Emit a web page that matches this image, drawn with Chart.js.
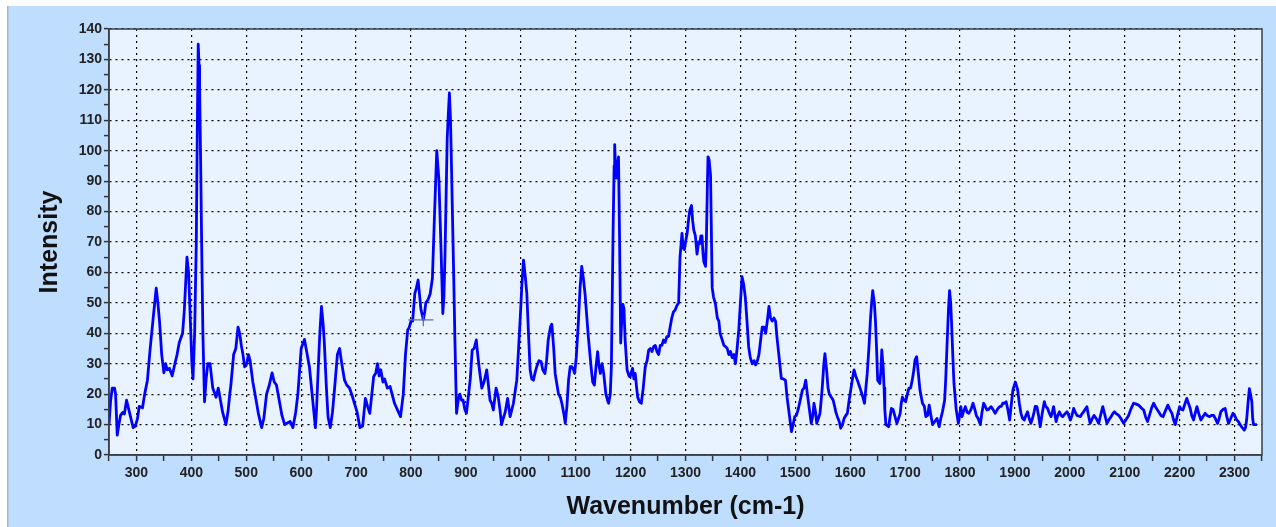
<!DOCTYPE html>
<html>
<head>
<meta charset="utf-8">
<title>Raman spectrum</title>
<script src="https://cdn.jsdelivr.net/npm/chart.js@4"></script>
<style>
  html, body { margin: 0; padding: 0; background: #ffffff; }
  #chart { display: block; }
</style>
</head>
<body>
<canvas id="chart" width="1276" height="527"></canvas>
<script>
// spectrum (cm-1 / intensity)
const wavenumber = [
  250, 253, 256, 260, 262, 265, 268, 271, 275, 278, 282, 286, 290, 294, 298, 302, 305, 311, 315, 320,
  325, 331, 336, 339, 342, 346, 350, 353, 356, 360, 365, 370, 374, 378, 384, 387, 392, 395, 398, 401,
  403, 406, 409, 411, 412.5, 414, 415, 417, 419, 421, 424, 427, 430, 434, 439, 445, 449, 453, 457, 460,
  463, 467, 470, 472, 477, 481, 485, 488, 491, 494, 497, 501, 504, 507, 512, 516, 522, 528, 532, 537,
  542, 547, 551, 555, 560, 565, 570, 575, 580, 585, 590, 594, 600, 606, 610, 615, 621, 626, 628, 631,
  634, 637, 640, 642, 646, 649, 653, 657, 660, 666, 670, 674, 679, 683, 688, 692, 697, 702, 707, 712,
  717, 721, 725, 732, 736, 739, 742, 745, 749, 752, 757, 762, 767, 770, 776, 781, 786, 790, 794, 797,
  800, 803, 807, 810, 813, 816, 818, 822.5, 825, 827, 831, 835, 839, 842.5, 845, 847, 849, 851, 853, 855,
  858, 860, 862, 864, 866, 868, 870, 872, 874, 876, 878, 880, 883, 886, 889, 892, 895, 898, 901, 905,
  908, 911.5, 915, 919, 921, 924, 929, 933, 938, 941, 944, 947, 950, 955, 959, 962, 965, 968, 971.5, 976,
  980.5, 986.6, 992.7, 996, 999, 1002, 1005, 1008, 1011, 1014, 1017, 1020, 1023, 1026, 1029, 1033, 1037, 1040, 1044, 1047,
  1050, 1054, 1056.5, 1060, 1062.6, 1066, 1068.7, 1072, 1074.8, 1078, 1081, 1084, 1087, 1090, 1093, 1096, 1098, 1101, 1105, 1108,
  1111, 1114, 1117, 1120, 1123, 1126, 1128, 1131, 1134, 1137, 1140, 1142, 1145, 1148, 1151, 1155, 1158, 1160, 1163, 1165,
  1168, 1170, 1171, 1173, 1174, 1176, 1178, 1180, 1182, 1184, 1186, 1188, 1190, 1193.6, 1197, 1199, 1201, 1203.6, 1206, 1208.5,
  1211, 1213, 1216, 1219.5, 1223, 1226.7, 1230, 1233, 1236, 1239, 1242, 1245, 1248, 1251, 1254, 1257, 1260, 1263, 1266, 1269,
  1272, 1275, 1278, 1281, 1284, 1287.5, 1290, 1293.6, 1296, 1298, 1300, 1303, 1306, 1308, 1311, 1313, 1315, 1318, 1321, 1324,
  1326, 1328, 1330, 1332, 1333.4, 1336.5, 1338, 1340, 1341, 1343, 1345.6, 1347, 1348.6, 1351, 1354.7, 1358, 1360.8, 1363, 1366.9, 1370,
  1373, 1376, 1379, 1382, 1385, 1388, 1391, 1394, 1397, 1400, 1403, 1406, 1409, 1412, 1415, 1418, 1421.6, 1425, 1427.7, 1431,
  1433.7, 1437, 1439.8, 1443, 1446, 1449, 1452, 1455, 1458, 1461, 1464, 1467, 1470, 1474.5, 1478, 1482, 1485, 1488, 1493, 1496,
  1499, 1502, 1505, 1509, 1513, 1516, 1519, 1522, 1525, 1529, 1532, 1534, 1537, 1539, 1542, 1545, 1549, 1552, 1554, 1557,
  1559.6, 1562, 1565.6, 1569, 1571.7, 1574, 1576.6, 1580, 1582.7, 1586, 1588.8, 1592, 1594.8, 1598, 1601, 1604, 1607, 1610, 1613, 1616,
  1619, 1623, 1626, 1628, 1631, 1634, 1637, 1639, 1641, 1644, 1646, 1648, 1650, 1654, 1656, 1657.5, 1660, 1661.7, 1663, 1665,
  1670, 1673, 1675, 1678, 1680, 1685, 1688, 1691, 1693, 1695, 1698, 1701, 1704, 1707, 1710, 1713, 1716, 1718, 1721, 1724,
  1727, 1731.6, 1735, 1737.7, 1741, 1743.8, 1747, 1750, 1754, 1758, 1762, 1765, 1768, 1772, 1774, 1776, 1779, 1781, 1783, 1784.5,
  1787, 1789, 1793, 1797, 1801.5, 1803.6, 1806, 1809.7, 1813, 1816, 1820, 1823.7, 1827, 1829.7, 1833, 1837, 1840, 1843, 1846, 1849,
  1852, 1856.4, 1860, 1864, 1868, 1872, 1875, 1878, 1881, 1884, 1887, 1890.4, 1893, 1896.4, 1900.7, 1905, 1908, 1911, 1914, 1917,
  1920, 1923, 1926, 1929, 1932, 1935, 1937, 1940, 1943, 1946, 1950, 1953.5, 1956, 1959.6, 1962, 1965.7, 1968, 1970.5, 1973, 1975,
  1978, 1981, 1984, 1987, 1991, 1995, 1998, 2001, 2004, 2007, 2010, 2013, 2016, 2019, 2022, 2025, 2028, 2031, 2034, 2037,
  2041, 2044, 2048, 2052.5, 2056, 2060, 2064, 2067.6, 2071, 2075, 2078, 2081, 2085, 2089, 2093, 2098, 2102, 2107, 2111, 2116,
  2120, 2125, 2130, 2134.5, 2138, 2141.6, 2145, 2149, 2152.6, 2157, 2161.7, 2166, 2169.7, 2174, 2178.6, 2182, 2186, 2189, 2192, 2196,
  2200, 2203, 2206, 2210, 2213, 2216, 2219.3, 2222, 2225.4, 2228, 2231.5, 2235, 2238.7, 2242, 2246.5, 2250, 2254.5, 2258, 2262, 2265,
  2269, 2272, 2275, 2279, 2283, 2286, 2289, 2293, 2297, 2300, 2304, 2307, 2310, 2314, 2317.6, 2320, 2322, 2325, 2327, 2329,
  2331.5, 2333, 2334.6, 2340.6
];
const intensity = [
  10, 18, 22, 22, 20, 6.5, 10, 13, 14, 13.5, 18, 15, 12, 9, 9.5, 12, 16, 15.5, 20, 24.6,
  35, 46, 54.8, 50, 44, 33, 27, 30, 28, 28.5, 26, 30, 33, 37, 40, 47, 65, 60, 45, 30,
  25, 40, 70, 110, 135, 128, 121, 95, 66, 40, 17.5, 25, 30, 30, 22, 19, 22, 18, 14, 12,
  10, 14.6, 20, 23, 33, 35, 42, 40, 36, 33, 29, 30, 33, 31, 24, 20, 13.7, 9, 12, 20,
  23, 27, 24, 23, 18, 13, 10, 10.5, 11, 9, 14, 20, 35, 38, 34, 29, 18, 9, 15, 28,
  40, 48.8, 43, 37.5, 22, 12.5, 9, 14, 20, 33, 35, 30, 24.6, 23, 22, 20, 17, 14, 9, 9.5,
  18.6, 16, 13.7, 25.7, 27, 30, 26, 28, 24, 25, 22, 22.5, 19, 17, 14.6, 12.6, 20, 33, 41, 42,
  44, 44, 53, 55, 57.5, 52, 48, 44.5, 47, 50, 51, 53, 58, 77, 90, 100, 95, 90, 78, 66,
  46.5, 52, 66, 85, 104, 112, 119, 110, 93, 75, 57.5, 38, 13.7, 18, 20, 18, 18, 15, 13.7, 20,
  25, 34.5, 35, 37.8, 34, 29, 22, 24, 28, 23, 18, 17, 14.8, 22, 19, 15, 10, 12, 14, 18.6,
  12.6, 17, 24.6, 35, 45, 56, 64, 59, 53, 40, 28, 25, 24.6, 27, 29, 31, 30.7, 28, 26.8, 31,
  37.8, 42, 43, 35, 26.8, 23, 20, 19, 17, 14, 10.4, 16, 24.6, 29, 29, 28, 26.8, 32, 44, 55,
  62, 58, 53, 46, 38.9, 33, 29, 24, 23, 29, 34, 30, 26.8, 30, 26.8, 20, 18, 17, 20, 29,
  72, 95, 102, 92, 91, 95, 98, 70, 36.8, 45, 49.5, 48, 38, 28, 26, 25.7, 27, 28.5, 25, 26.8,
  22, 19, 17.5, 17, 22, 29, 31, 34.5, 35, 34, 35.6, 36, 34, 33, 36, 36, 37.8, 37, 38.9, 38.9,
  42, 45, 47, 47.6, 49, 50, 65, 72.8, 68, 67.5, 70, 72.8, 78, 80.5, 82, 77, 74, 72, 66, 70,
  69.5, 72, 72, 66, 63.5, 62, 70, 90, 98, 97, 92, 75, 55, 52, 49.5, 45, 44, 40, 37.8, 36,
  35.6, 35, 33, 34, 32, 33, 30, 35, 41, 50, 58.6, 56, 51.7, 44, 35.6, 32, 30, 31, 29.6, 31,
  33, 38, 42, 42, 40, 44, 48.8, 45, 44, 45, 44, 38, 33, 25.2, 25, 24.6, 19, 14.8, 7.7, 10,
  12.6, 13, 14.8, 18, 21.4, 22, 24.6, 20, 15.9, 10.4, 13, 17, 14, 10.4, 12, 13.7, 22, 30, 33.3, 28,
  22, 20, 19, 18, 15.9, 14, 12.6, 11, 8.8, 10, 12, 13, 13.7, 18, 21.4, 25, 28, 26, 24.6, 23,
  21.4, 19, 17, 21, 26.8, 35, 45, 50, 54, 50, 44, 35, 24.6, 23.5, 28, 34.5, 29, 22, 15, 10,
  9.3, 13, 15.3, 15, 13.7, 10.4, 12, 13.7, 17, 19, 18, 17.5, 20, 22, 22, 24.6, 28, 31.2, 32.3, 27,
  21.4, 17, 16, 12.6, 13, 16.4, 13, 10, 11, 12, 9.3, 12, 14.2, 18, 25, 34.5, 48, 54, 50, 44,
  32, 23.5, 15, 10.4, 15.9, 12.6, 14, 15.9, 14, 13.7, 15, 17, 15, 13, 12, 10, 14, 17, 16, 14.8,
  15, 15.9, 15, 13.7, 15, 15.9, 16, 17, 17, 17.5, 15, 11.5, 16, 21.4, 24, 21.4, 17, 13.7, 12, 11.5,
  13, 14.2, 12, 10.4, 12, 14.2, 16, 15.9, 13, 9.3, 14, 17.5, 16, 15.3, 14, 12.6, 14, 15.9, 13, 11,
  13, 14.2, 13, 12.6, 13.5, 14.2, 13, 11.5, 13, 15.3, 14, 13, 12.8, 12.6, 13.5, 14.2, 15, 15.9, 13, 10.4,
  12, 13, 12, 10.4, 13, 15.9, 13, 10.4, 11.5, 12.6, 13.5, 14.2, 13.5, 13, 12, 10.4, 11.5, 13, 15, 17,
  16.8, 16.4, 15.5, 14.8, 12.5, 11, 13, 15.5, 17, 15.5, 14.2, 13, 12.6, 14.5, 16.4, 15, 13.7, 11.5, 10, 13,
  15.9, 15, 14.8, 17, 18.6, 17, 15.3, 13, 11.5, 13.5, 15.9, 13.5, 11.5, 12.5, 13.7, 13, 12.6, 13, 13, 12,
  10.4, 12, 14.2, 15, 15.3, 12.5, 10.4, 12, 13.7, 13, 11.5, 11, 10, 9, 8.2, 9, 11.5, 18, 21.8, 20,
  17.5, 12, 10, 10
];

// small cursor cross left on the plot near 820 cm-1
const cursorH = [{ x: 795, y: 44.4 }, { x: 841, y: 44.4 }];
const cursorV = [{ x: 822.5, y: 42.3 }, { x: 822.5, y: 46 }];

const xTickLabels = [300, 400, 500, 600, 700, 800, 900, 1000, 1100, 1200, 1300, 1400,
  1500, 1600, 1700, 1800, 1900, 2000, 2100, 2200, 2300];
const yTickLabels = [0, 10, 20, 30, 40, 50, 60, 70, 80, 90, 100, 110, 120, 130, 140];

const points = wavenumber.map((w, i) => ({ x: w, y: intensity[i] }));

// light blue frame behind everything, lighter plot area, box around it
const backdrop = {
  id: 'backdrop',
  beforeDraw(chart) {
    const { ctx, chartArea: a } = chart;
    ctx.save();
    ctx.fillStyle = '#ffffff';
    ctx.fillRect(0, 0, chart.width, chart.height);
    ctx.fillStyle = '#bfdeff';
    ctx.fillRect(8, 6, chart.width - 8, chart.height - 6);
    ctx.fillStyle = '#a9b4c0';
    ctx.fillRect(7, 6, 1.5, chart.height - 6);
    ctx.fillStyle = '#e8f3ff';
    ctx.fillRect(a.left, a.top, a.right - a.left, a.bottom - a.top);
    ctx.restore();
  },
  afterDraw(chart) {
    const { ctx, chartArea: a } = chart;
    ctx.save();
    ctx.strokeStyle = '#3a3f45';
    ctx.lineWidth = 1.5;
    ctx.strokeRect(a.left, a.top, a.right - a.left, a.bottom - a.top);
    ctx.restore();
  }
};

const tickFont = { family: 'Liberation Sans, Arial, sans-serif', size: 14, weight: 'bold' };
const titleFont = { family: 'Liberation Sans, Arial, sans-serif', size: 25, weight: 'bold' };

const cursorStyle = { borderColor: '#5a68a8', borderWidth: 1.2, pointRadius: 0, tension: 0, fill: false };

new Chart(document.getElementById('chart'), {
  type: 'line',
  data: {
    datasets: [
      { data: cursorH, ...cursorStyle },
      { data: cursorV, ...cursorStyle },
      {
        data: points,
        borderColor: '#0000ff',
        borderWidth: 2.8,
        pointRadius: 0,
        tension: 0,
        fill: false,
        borderJoinStyle: 'round'
      }
    ]
  },
  options: {
    responsive: false,
    animation: false,
    events: [],
    layout: { padding: { left: 0, top: 29, right: 14, bottom: 0 } },
    plugins: { legend: { display: false }, tooltip: { enabled: false } },
    scales: {
      x: {
        type: 'linear',
        min: 250,
        max: 2350,
        afterFit(scale) { scale.height = 72; },
        ticks: {
          stepSize: 50,
          autoSkip: false,
          maxRotation: 0,
          padding: 4,
          color: '#222',
          font: tickFont,
          callback: v => xTickLabels.includes(v) ? String(v) : ''
        },
        grid: {
          color: c => (c.tick && c.tick.value % 100 === 0) ? '#000000' : 'rgba(0,0,0,0)',
          lineWidth: 1.2,
          tickColor: '#333',
          tickLength: 6,
          tickWidth: 1.5
        },
        border: { display: true, color: '#3a3f45', width: 1.5, dash: [2, 4] },
        title: {
          display: true,
          text: 'Wavenumber (cm-1)',
          color: '#111',
          font: titleFont,
          padding: { top: 0, bottom: 5 }
        }
      },
      y: {
        min: 0,
        max: 140,
        afterFit(scale) { scale.width = 109; },
        ticks: {
          stepSize: 5,
          autoSkip: false,
          padding: 2,
          color: '#222',
          font: tickFont,
          callback: v => yTickLabels.includes(v) ? String(v) : ''
        },
        grid: {
          color: c => (c.tick && c.tick.value % 10 === 0) ? '#000000' : 'rgba(0,0,0,0)',
          lineWidth: 1.2,
          tickColor: '#333',
          tickLength: 5,
          tickWidth: 1.5
        },
        border: { display: true, color: '#3a3f45', width: 1.5, dash: [2, 4] },
        title: {
          display: true,
          text: 'Intensity',
          color: '#111',
          font: titleFont,
          padding: { top: 35, bottom: 0 }
        }
      }
    }
  },
  plugins: [backdrop]
});
</script>
</body>
</html>
